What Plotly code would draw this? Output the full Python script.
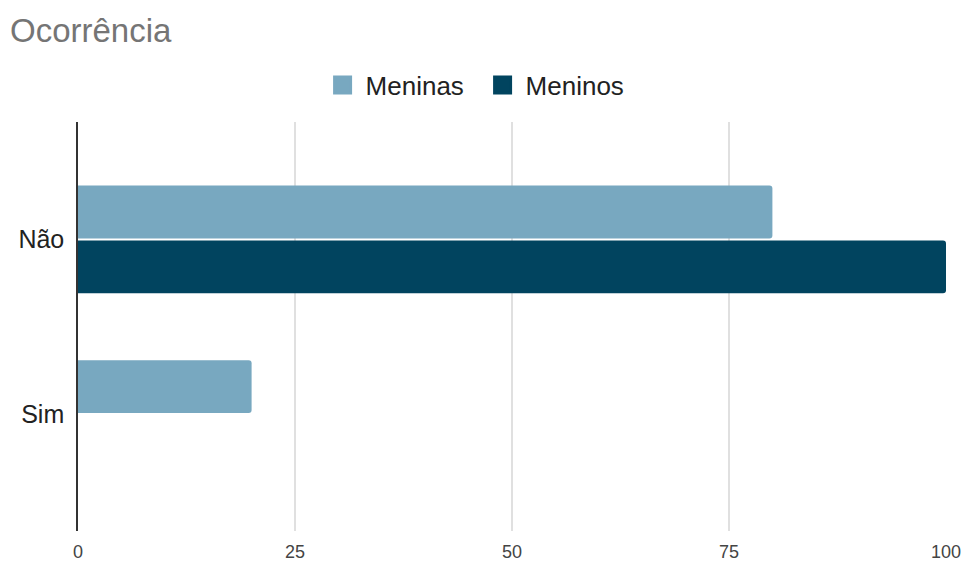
import plotly.graph_objects as go

categories = ["Não", "Sim"]
meninas = [80, 20]
meninos = [100, 0]
x_ticks = [0, 25, 50, 75, 100]
series_names = ["Meninas", "Meninos"]
series_colors = ["#78a8c0", "#01445f"]

fig = go.Figure()
for name, vals, col in zip(series_names, [meninas, meninos], series_colors):
    fig.add_trace(go.Bar(y=categories, x=vals, name=name, orientation="h", showlegend=False,
                         marker=dict(color=col, cornerradius=3, line=dict(width=0))))
# legend swatches (square markers)
for name, col in zip(series_names, series_colors):
    fig.add_trace(go.Scatter(x=[None], y=[None], mode="markers", name=name,
                             marker=dict(symbol="square", size=16, color=col,
                                         line=dict(width=3, color=col))))

fig.update_layout(
    width=964, height=561,
    margin=dict(l=78, r=18, t=122, b=30, autoexpand=False),
    paper_bgcolor="white", plot_bgcolor="white",
    font=dict(family="Arial, Liberation Sans, sans-serif", color="#222222"),
    title=dict(text="Ocorrência", x=10 / 964, xref="container", xanchor="left",
               y=1 - 30 / 561, yref="container", yanchor="middle",
               font=dict(size=33, color="#757575")),
    barmode="group", bargap=0.37, bargroupgap=0.04,
    showlegend=True,
    legend=dict(orientation="h", x=0.4975, xref="container", xanchor="center",
                y=1 - 85 / 561, yref="container", yanchor="middle",
                font=dict(size=26, color="#222222"), itemwidth=36,
                entrywidth=109, entrywidthmode="pixels",
                traceorder="normal"),
)
fig.update_xaxes(range=[0, 100], tickvals=x_ticks, showgrid=True, gridcolor="#e0e0e0",
                 gridwidth=1.5, zeroline=False, showline=False, ticks="",
                 automargin=False,
                 tickfont=dict(size=18, color="#444444"), ticklabelstandoff=8)
fig.update_yaxes(categoryorder="array", categoryarray=categories,
                 range=[1.670, -0.673], showgrid=False, showline=True,
                 linecolor="#333333", linewidth=1.5, ticks="", automargin=False,
                 tickfont=dict(size=25, color="#222222"), ticklabelstandoff=7)

fig.write_html("out.html")
